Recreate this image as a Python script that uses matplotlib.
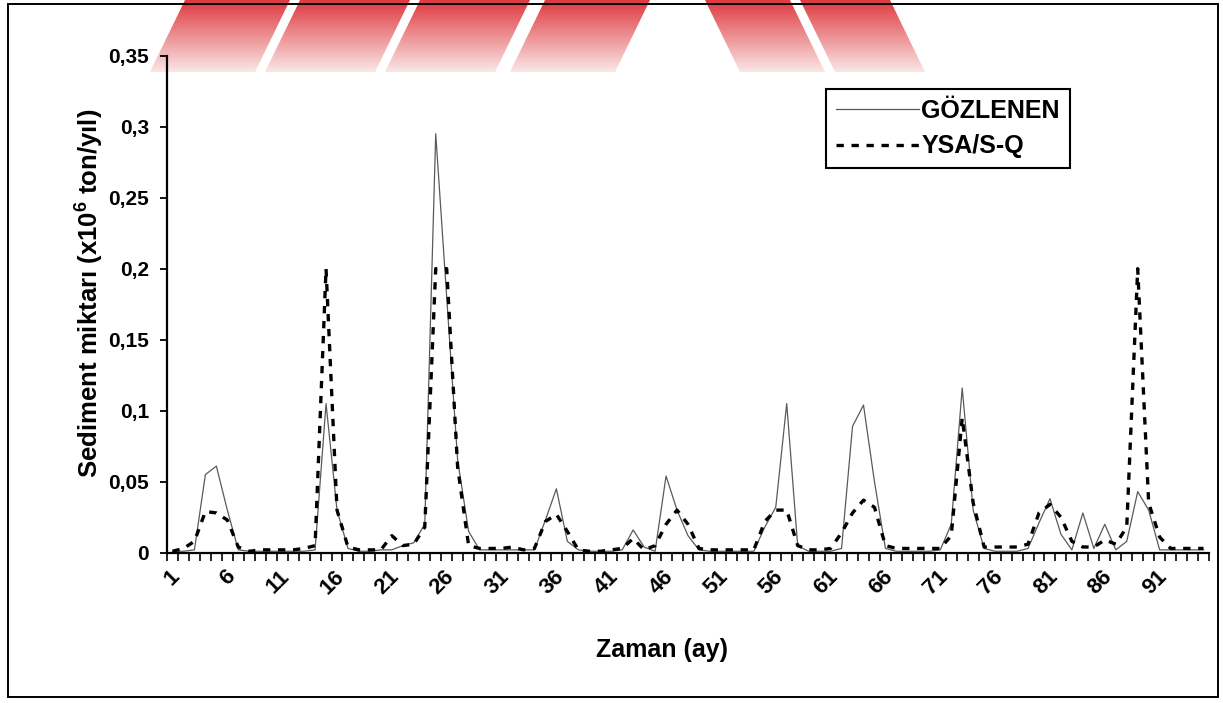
import matplotlib
matplotlib.use("Agg")
import numpy as np
import matplotlib.pyplot as plt
import matplotlib.transforms as mtrans
from matplotlib.patches import Rectangle, Polygon
from matplotlib.lines import Line2D
from matplotlib.colors import to_rgb

plt.rcParams['font.family'] = ['Liberation Sans', 'DejaVu Sans']
plt.rcParams['font.weight'] = 'bold'
plt.rcParams['mathtext.fontset'] = 'custom'
plt.rcParams['mathtext.rm'] = 'Liberation Sans:bold'
plt.rcParams['mathtext.it'] = 'Liberation Sans:bold:italic'
plt.rcParams['mathtext.bf'] = 'Liberation Sans:bold'

# ---------------- data ----------------
months = list(range(1, 96))

gozlenen = [
    0.001, 0.001, 0.002, 0.055, 0.061, 0.030, 0.002, 0.001, 0.001, 0.001,
    0.001, 0.001, 0.001, 0.002, 0.105, 0.030, 0.003, 0.001, 0.001, 0.002,
    0.002, 0.005, 0.007, 0.020, 0.295, 0.180, 0.065, 0.015, 0.002, 0.002,
    0.002, 0.002, 0.002, 0.002, 0.023, 0.045, 0.008, 0.002, 0.001, 0.001,
    0.001, 0.002, 0.016, 0.004, 0.001, 0.054, 0.030, 0.012, 0.002, 0.001,
    0.001, 0.001, 0.001, 0.001, 0.018, 0.032, 0.105, 0.005, 0.001, 0.001,
    0.001, 0.003, 0.089, 0.104, 0.050, 0.003, 0.001, 0.001, 0.001, 0.001,
    0.002, 0.020, 0.116, 0.030, 0.003, 0.001, 0.001, 0.001, 0.003, 0.021,
    0.038, 0.013, 0.002, 0.028, 0.003, 0.020, 0.002, 0.008, 0.043, 0.030,
    0.002, 0.002, 0.002, 0.002, 0.002]

ysa_sq = [
    0.001, 0.003, 0.008, 0.029, 0.028, 0.023, 0.004, 0.001, 0.002, 0.002,
    0.002, 0.002, 0.003, 0.005, 0.200, 0.030, 0.004, 0.002, 0.002, 0.002,
    0.012, 0.005, 0.006, 0.018, 0.200, 0.200, 0.060, 0.005, 0.003, 0.003,
    0.003, 0.004, 0.002, 0.003, 0.022, 0.027, 0.015, 0.002, 0.001, 0.001,
    0.002, 0.003, 0.010, 0.002, 0.005, 0.020, 0.030, 0.020, 0.003, 0.002,
    0.002, 0.002, 0.002, 0.002, 0.022, 0.030, 0.030, 0.005, 0.002, 0.002,
    0.003, 0.014, 0.028, 0.037, 0.032, 0.005, 0.003, 0.003, 0.003, 0.003,
    0.003, 0.012, 0.095, 0.035, 0.004, 0.004, 0.004, 0.004, 0.006, 0.028,
    0.034, 0.025, 0.008, 0.004, 0.004, 0.009, 0.006, 0.018, 0.200, 0.035,
    0.011, 0.003, 0.003, 0.003, 0.003]

y_ticks = [0, 0.05, 0.10, 0.15, 0.20, 0.25, 0.30, 0.35]
y_tick_labels = ['0', '0,05', '0,1', '0,15', '0,2', '0,25', '0,3', '0,35']
x_label_months = list(range(1, 92, 5))
series_labels = ['GÖZLENEN', 'YSA/S-Q']
x_title = 'Zaman (ay)'
y_title = 'Sediment miktarı (x10$^{6}$ ton/yıl)'

# ---------------- figure ----------------
W, H = 1223, 703
fig = plt.figure(figsize=(W / 100, H / 100), dpi=100)
fig.patch.set_facecolor('white')

def fx(px):
    return px / W

def fy(py):
    return 1 - py / H

# watermark-like stripes at the top (gradient red -> pink)
wax = fig.add_axes([0, fy(78), 1, fy(0) - fy(78)], zorder=0)
wax.set_xlim(0, W)
wax.set_ylim(78, 0)
wax.axis('off')
top_c = np.array(to_rgb('#de3a40'))
bot_c = np.array(to_rgb('#fbe6e6'))
tt = np.linspace(0, 1, 120).reshape(-1, 1, 1)
grad = top_c * (1 - tt) + bot_c * tt
grad = np.repeat(grad, 2, axis=1)
stripes = [
    (185, 290, 150, 255), (300, 410, 265, 375), (420, 530, 385, 495),
    (545, 650, 510, 615), (705, 790, 740, 825), (800, 890, 835, 925),
]
for xtl, xtr, xbl, xbr in stripes:
    poly = Polygon([(xtl, 0), (xtr, 0), (xbr, 72), (xbl, 72)], closed=True,
                   facecolor='none', edgecolor='none')
    wax.add_patch(poly)
    im = wax.imshow(grad, extent=(0, W, 72, 0), aspect='auto', interpolation='bilinear')
    im.set_clip_path(poly)

# outer chart frame
fig.add_artist(Rectangle((fx(8), fy(697)), fx(1218) - fx(8), fy(4) - fy(697),
                         transform=fig.transFigure, fill=False, lw=1.4,
                         edgecolor='black', zorder=1))

ax_left, ax_right, ax_top, ax_bottom = 167, 1209, 55.7, 552.7
ax = fig.add_axes([fx(ax_left), fy(ax_bottom), fx(ax_right) - fx(ax_left),
                   fy(ax_top) - fy(ax_bottom)], zorder=2)
ax.patch.set_alpha(0)

ax.plot(months, gozlenen, color='#5a5a5a', lw=0.9, zorder=3)
ax.plot(months, ysa_sq, color='black', lw=2.4, dashes=(2.2, 2.3), zorder=4)

ax.set_xlim(0.5, len(months) + 0.5)
ax.set_ylim(0, 0.35)

for s in ['top', 'right']:
    ax.spines[s].set_visible(False)
for s in ['left', 'bottom']:
    ax.spines[s].set_linewidth(1.6)
    ax.spines[s].set_color('black')

ax.set_yticks(y_ticks)
ax.set_yticklabels(y_tick_labels, fontsize=15, fontweight='bold')
ax.tick_params(axis='y', direction='out', length=5, width=1.3, pad=8)

ax.set_xticks([m + 0.5 for m in [0] + months])
ax.set_xticklabels([])
ax.tick_params(axis='x', direction='out', length=6, width=1.2)

trans = mtrans.blended_transform_factory(ax.transData, ax.transAxes)
for m in x_label_months:
    t = mtrans.offset_copy(trans, fig=fig, x=-3, y=-13, units='dots')
    ax.text(m, 0, str(m), transform=t, rotation=45, ha='right', va='top',
            rotation_mode='anchor', fontsize=16, fontweight='bold', clip_on=False)

fig.text(fx(90), fy(293), y_title, rotation=90, ha='center', va='center',
         fontsize=18.5, fontweight='bold')
fig.text(fx(662), fy(650), x_title, ha='center', va='center', fontsize=18,
         fontweight='bold')

handles = [Line2D([], [], color='#5a5a5a', lw=0.9),
           Line2D([], [], color='black', lw=2.4, dashes=(2.2, 2.3))]
leg = ax.legend(handles, series_labels, loc='upper left',
                bbox_to_anchor=(fx(826), fy(89)), bbox_transform=fig.transFigure,
                prop={'size': 18, 'weight': 'bold'}, frameon=True, fancybox=False,
                framealpha=1, edgecolor='black', handlelength=3.3,
                handletextpad=0.12, borderpad=0.4, labelspacing=0.45,
                borderaxespad=0)
leg.get_frame().set_linewidth(1.5)

fig.savefig('out.png', dpi=100)
